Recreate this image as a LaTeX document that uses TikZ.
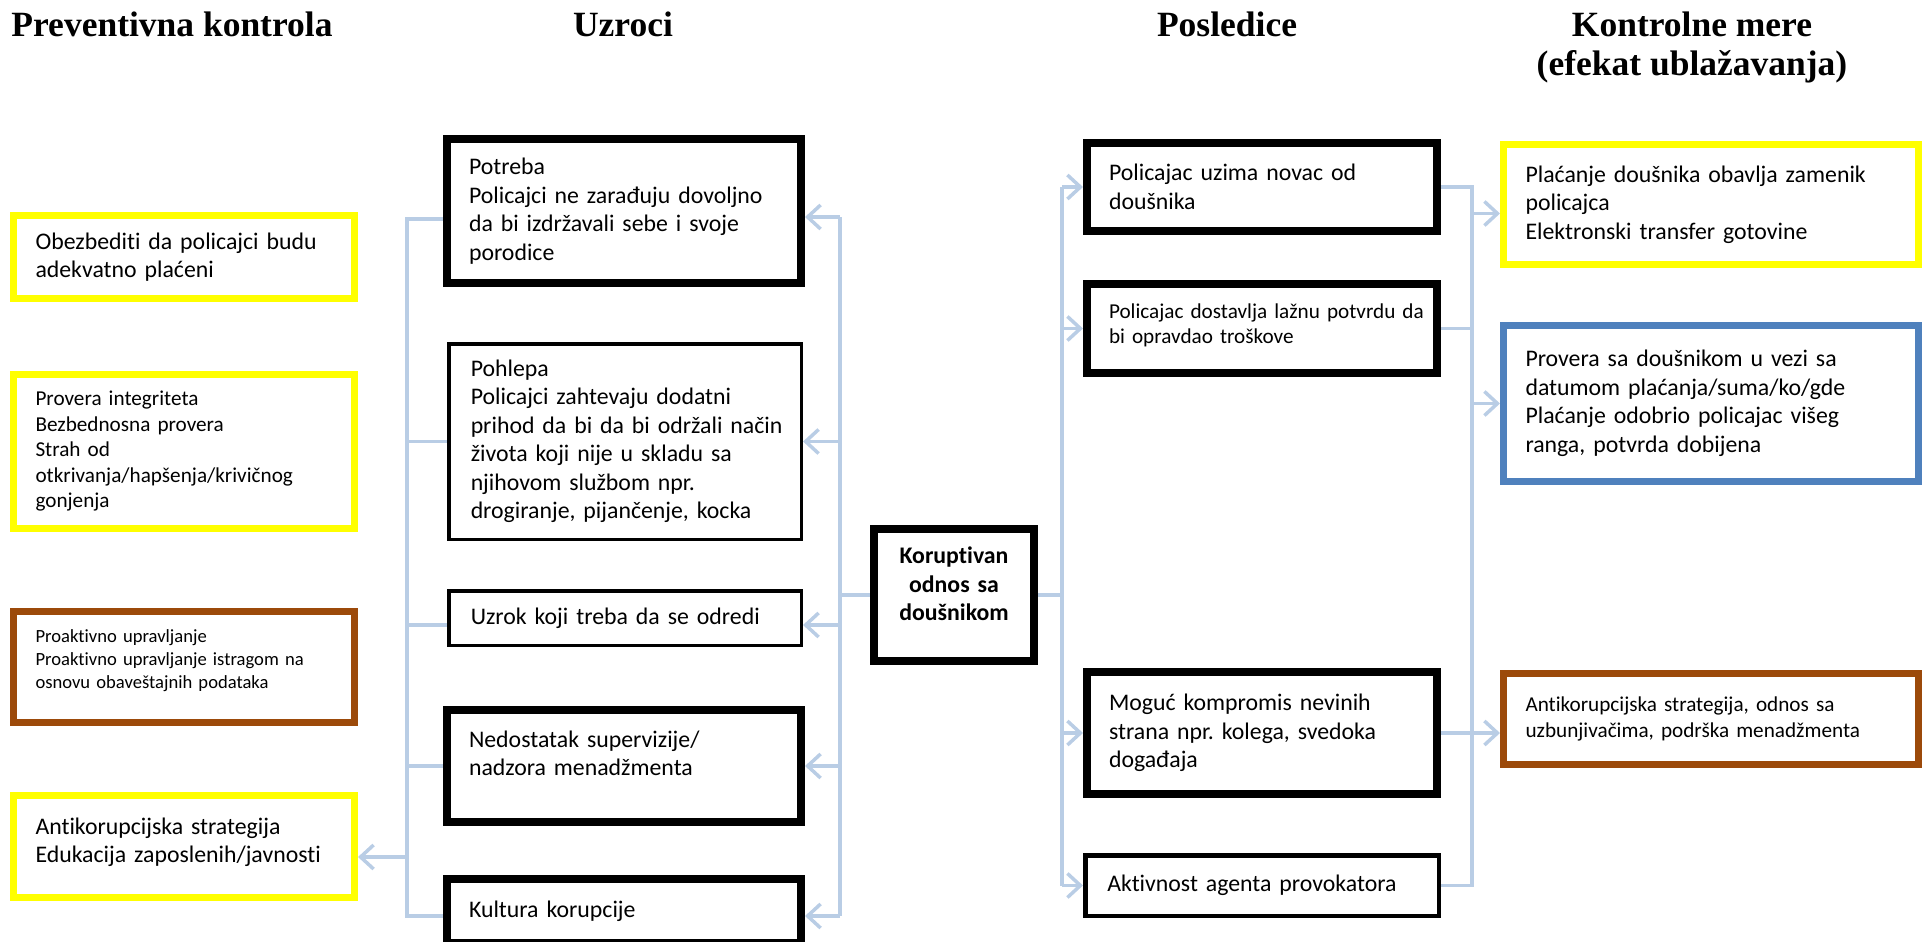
\documentclass[tikz,border=0pt]{standalone}
\usepackage{fontspec}
\setmainfont{Carlito}[Ligatures=NoCommon]
\newfontfamily\headfont{Liberation Serif}
\usetikzlibrary{arrows.meta,backgrounds}

\definecolor{linkblue}{RGB}{185,205,229}
\definecolor{markyellow}{RGB}{255,255,0}
\definecolor{markbrown}{RGB}{156,74,10}
\definecolor{markblue}{RGB}{79,129,189}

\tikzset{
  box/.style={draw, inner sep=0pt},
  textbox/.style={box, align=left, execute at begin node={\leftskip=22pt\relax}},
  thickbox/.style={textbox, line width=8pt},
  thinbox/.style={textbox, line width=3.5pt},
  ctrlbox/.style={textbox, line width=7pt},
  bodybig/.style={font=\fontsize{23.8}{28.5}\selectfont},
  bodymid/.style={font=\fontsize{21.2}{25.5}\selectfont},
  bodysmall/.style={font=\fontsize{18.6}{22.7}\selectfont},
  colhead/.style={font=\headfont\bfseries\fontsize{35.5}{39}\selectfont, inner sep=0pt},
  link/.style={draw=linkblue, line width=3.5pt},
  linkarrow/.style={link, -{Straight Barb[length=13pt,width=24pt]}},
}

\begin{document}
\frenchspacing
\begin{tikzpicture}[x=1pt, y=-1pt]
\useasboundingbox (0,0) rectangle (1923,942);

% headings
\node[colhead, anchor=base] (hprev) at (172,37) {Preventivna kontrola};
\node[colhead, anchor=base] (hcause) at (623,37) {Uzroci};
\node[colhead, anchor=base] (hcons) at (1227,37) {Posledice};
\node[colhead, anchor=north, align=center] (hctrl) at (1692,12) {Kontrolne mere\\(efekat ublažavanja)};

% preventive controls
\node[ctrlbox, draw=markyellow, bodybig, text width=341pt, minimum height=83pt] (prev1) at (184,257) {Obezbediti da policajci budu\\adekvatno plaćeni};
\node[ctrlbox, draw=markyellow, bodymid, text width=341pt, minimum height=154pt] (prev2) at (184,451.5) {Provera integriteta\\Bezbednosna provera\\Strah od\\otkrivanja/hapšenja/krivičnog\\gonjenja};
\node[ctrlbox, draw=markbrown, bodysmall, text width=341pt, minimum height=111pt] (prev3) at (184,667) {Proaktivno upravljanje\\Proaktivno upravljanje istragom na\\osnovu obaveštajnih podataka\\[-7pt]\mbox{}};
\node[ctrlbox, draw=markyellow, bodybig, text width=341pt, minimum height=102pt] (prev4) at (184,846.5) {Antikorupcijska strategija\\Edukacija zaposlenih/javnosti\\[-16pt]\mbox{}};

% causes
\node[thickbox, bodybig, text width=354pt, minimum height=144pt] (need) at (624,211) {Potreba\\Policajci ne zarađuju dovoljno\\da bi izdržavali sebe i svoje\\porodice};
\node[thinbox, bodybig, text width=352.5pt, minimum height=195.5pt] (greed) at (625,441.5) {Pohlepa\\Policajci zahtevaju dodatni\\prihod da bi da bi održali način\\života koji nije u skladu sa\\njihovom službom npr.\\drogiranje, pijančenje, kocka};
\node[thinbox, bodybig, text width=352.5pt, minimum height=54.5pt] (unknown) at (625,618) {Uzrok koji treba da se odredi};
\node[thickbox, bodybig, text width=354pt, minimum height=112pt] (nosuper) at (624,766) {Nedostatak supervizije/\\nadzora menadžmenta\\[-3pt]\mbox{}};
\node[thickbox, bodybig, text width=354pt, minimum height=64pt] (culture) at (624,911) {Kultura korupcije};

% hazard
\node[box, line width=8pt, align=center, font=\bfseries\fontsize{23.8}{28.5}\selectfont, text width=160pt, minimum height=132pt] (hazard) at (954,595) {Koruptivan\\odnos sa\\doušnikom\\[-6pt]\mbox{}};

% consequences
\node[thickbox, bodybig, text width=350pt, minimum height=88pt] (money) at (1262,187) {Policajac uzima novac od\\doušnika};
\node[thickbox, bodymid, text width=350pt, minimum height=89pt] (receipt) at (1262,328.5) {Policajac dostavlja lažnu potvrdu da\\bi opravdao troškove\\[-16pt]\mbox{}};
\node[thickbox, bodybig, text width=350pt, minimum height=122pt] (innocent) at (1262,733) {Moguć kompromis nevinih\\strana npr. kolega, svedoka\\događaja};
\node[textbox, line width=4.5pt, bodybig, text width=353.5pt, minimum height=60.5pt] (provoke) at (1262,885.5) {Aktivnost agenta provokatora};

% control measures
\node[ctrlbox, draw=markyellow, bodybig, text width=415pt, minimum height=120pt] (ctrl1) at (1711,204.5) {Plaćanje doušnika obavlja zamenik\\policajca\\Elektronski transfer gotovine};
\node[ctrlbox, draw=markblue, bodybig, text width=415pt, minimum height=156pt] (ctrl2) at (1711,403.5) {Provera sa doušnikom u vezi sa\\datumom plaćanja/suma/ko/gde\\Plaćanje odobrio policajac višeg\\ranga, potvrda dobijena};
\node[ctrlbox, draw=markbrown, bodymid, text width=415pt, minimum height=91pt] (ctrl3) at (1711,719) {Antikorupcijska strategija, odnos sa\\uzbunjivačima, podrška menadžmenta};

\coordinate (lbus) at (407,0);
\coordinate (rbus) at (840,0);
\coordinate (cbus) at (1062,0);
\coordinate (mbus) at (1472,0);

\begin{scope}[on background layer]
% causes -> preventive controls
\draw[link] ([yshift=-8pt]need.west) -- ([yshift=-8pt]need.west -| lbus) -- ([yshift=-5pt]culture.west -| lbus) -- ([yshift=-5pt]culture.west);
\draw[link] (greed.west) -- (greed.west -| lbus);
\draw[link] ([yshift=-7pt]unknown.west) -- ([yshift=-7pt]unknown.west -| lbus);
\draw[link] (nosuper.west) -- (nosuper.west -| lbus);
\draw[linkarrow] ([yshift=-10.5pt]prev4.east -| lbus) -- ([yshift=-10.5pt]prev4.east);

% hazard -> causes
\draw[link] (hazard.west) -- (hazard.west -| rbus);
\draw[link] ([yshift=-6pt]need.east -| rbus) -- ([yshift=-5pt]culture.east -| rbus);
\draw[linkarrow] ([yshift=-6pt]need.east -| rbus) -- ([yshift=-6pt]need.east);
\draw[linkarrow] (greed.east -| rbus) -- (greed.east);
\draw[linkarrow] ([yshift=-7pt]unknown.east -| rbus) -- ([yshift=-7pt]unknown.east);
\draw[linkarrow] (nosuper.east -| rbus) -- (nosuper.east);
\draw[linkarrow] ([yshift=-5pt]culture.east -| rbus) -- ([yshift=-5pt]culture.east);

% hazard -> consequences
\draw[link] (hazard.east) -- (hazard.east -| cbus);
\draw[link] (money.west -| cbus) -- (provoke.west -| cbus);
\draw[linkarrow] (money.west -| cbus) -- (money.west);
\draw[linkarrow] (receipt.west -| cbus) -- (receipt.west);
\draw[linkarrow] (innocent.west -| cbus) -- (innocent.west);
\draw[linkarrow] (provoke.west -| cbus) -- (provoke.west);

% consequences -> control measures
\draw[link] (money.east) -- (money.east -| mbus) -- (provoke.east -| mbus) -- (provoke.east);
\draw[link] (receipt.east) -- (receipt.east -| mbus);
\draw[linkarrow] ([yshift=-9pt]ctrl1.west -| mbus) -- ([yshift=-9pt]ctrl1.west);
\draw[linkarrow] (ctrl2.west -| mbus) -- (ctrl2.west);
\draw[linkarrow] (innocent.east) -- (ctrl3.west |- innocent.east);
\end{scope}

\end{tikzpicture}
\end{document}
